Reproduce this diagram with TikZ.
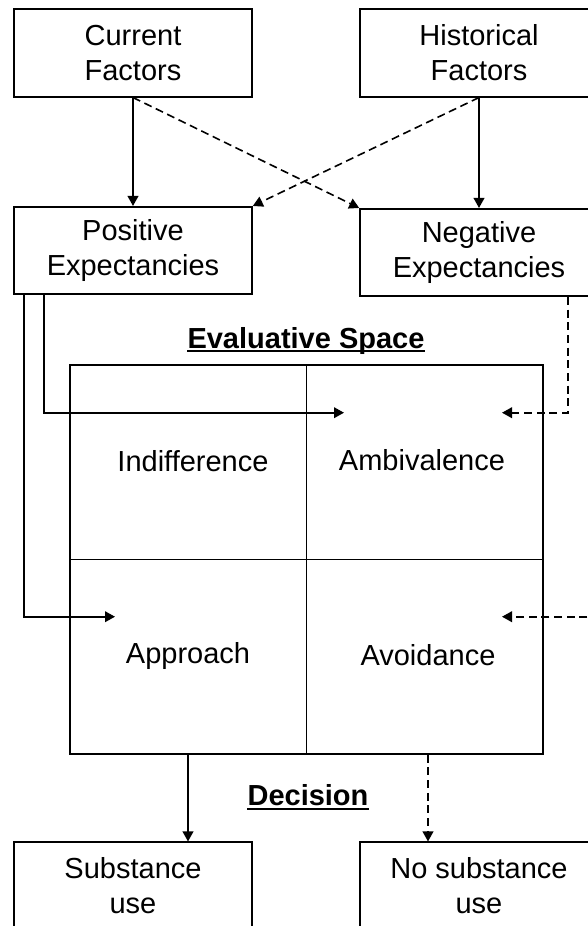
\documentclass[tikz,border=0pt]{standalone}
\usepackage{fontspec}
\setmainfont{Liberation Sans}
\usetikzlibrary{calc,arrows.meta}
\tikzset{
  box/.style={draw, line width=1.2pt, minimum width=178.5pt, minimum height=65.6pt, align=center, inner sep=0pt},
  lbl/.style={anchor=base, inner sep=0pt},
  ttl/.style={anchor=base, inner sep=0pt, font=\fontsize{21.75}{26.25}\selectfont\bfseries},
  uline/.style={line width=1.3pt},
  arr/.style={line width=1.2pt, -{Triangle[length=7.5pt,width=8pt]}},
  darr/.style={arr, dash pattern=on 6pt off 3.5pt},
}

\begin{document}
\begin{tikzpicture}[x=0.75pt, y=-0.75pt, font=\fontsize{21.75}{26.25}\selectfont]
	%%%%% START %%%%%
	\useasboundingbox (0,0) rectangle (587,926);
	
	\node[box] (cur) at (133, 53) {Current\\Factors};
	\node[box] (hist) at (479, 53) {Historical\\Factors};
	\node[box] (pos) at (133, 250.5) {Positive\\Expectancies};
	\node[box] (neg) at (479, 252.5) {Negative\\Expectancies};
	
	\draw[arr] (cur) -- (pos);
	\draw[arr] (hist) -- (neg);
	\draw[darr] (cur.south) -- (neg.north west);
	\draw[darr] (hist.south) -- (pos.north east);
	
	% evaluative space
	\node[ttl] (evtitle) at (306, 348) {Evaluative Space};
	\draw[uline] ($(evtitle.base west)+(0,3)$) -- ($(evtitle.base east)+(0,3)$);
	
	\node[draw, line width=1.2pt, minimum width=354.75pt, minimum height=291.75pt] (space) at (306.5, 559.5) {};
	\draw[line width=1.2pt] (space.north) -- (space.south);
	\draw[line width=1.2pt] (space.west) -- (space.east);
	
	\node[lbl] (indiff) at (193, 471.5) {Indifference};
	\node[lbl] (ambiv) at (422, 470) {Ambivalence};
	\node[lbl] (approach) at (188, 663) {Approach};
	\node[lbl] (avoid) at (428, 665) {Avoidance};
	
	\coordinate (ambin) at (344, 412.7);
	\coordinate (appin) at (115, 616.7);
	\coordinate (ambin2) at (502, 412.7);
	\coordinate (avoin) at (502, 616.7);
	\coordinate (negfar) at (600, 616.7);
	
	\draw[arr] ($(pos.south west)+(31,0)$) |- (ambin);
	\draw[arr] ($(pos.south west)+(11,0)$) |- (appin);
	\draw[darr] ($(neg.south west)+(209,0)$) |- (ambin2);
	\draw[darr] (negfar) -- (avoin);
	
	% decision
	\node[ttl] (dectitle) at (308, 805) {Decision};
	\draw[uline] ($(dectitle.base west)+(0,4)$) -- ($(dectitle.base east)+(0,4)$);
	
	\node[box] (subst) at (133, 886) {Substance\\use};
	\node[box] (nosubst) at (479, 886) {No substance\\use};
	
	\draw[arr] (space.south -| approach) -- (approach |- subst.north);
	\draw[darr] (space.south -| avoid) -- (avoid |- nosubst.north);
	
	%%%%% END %%%%%
\end{tikzpicture}
\end{document}
